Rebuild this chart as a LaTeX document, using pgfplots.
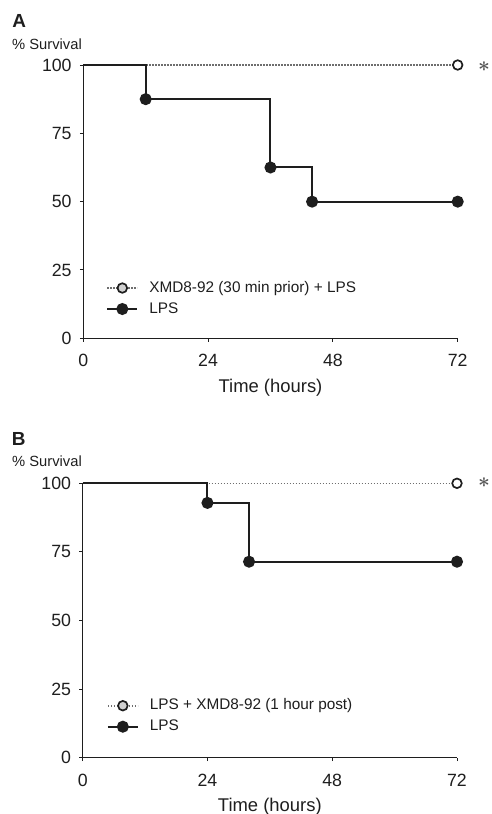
\documentclass[border=0pt]{standalone}
\usepackage{fontspec}
\setmainfont{Liberation Sans}
\usepackage{pgfplots}
\pgfplotsset{compat=1.18}

\definecolor{ink}{HTML}{1E1E1E}
\definecolor{dotgray}{HTML}{6E6E6E}
\definecolor{stargray}{HTML}{555555}
\definecolor{legfill}{HTML}{D0D0D0}

\tikzset{dotline/.style={dotgray, line width=1.6bp, dash pattern=on 1.4bp off 1.6bp}}

\pgfplotsset{
  km/.style={
    scale only axis,
    xmin=0, xmax=72, ymin=0, ymax=100,
    axis lines=left,
    axis line style={-, line width=1.1bp, ink},
    xtick={0,24,48,72}, ytick={0,25,50,75,100},
    tick align=outside, major tick length=3.5bp,
    tick style={line width=1bp, ink},
    tick label style={font=\fontsize{17.8}{20}\selectfont, text=ink},
    /pgf/number format/assume math mode=true,
    yticklabel style={inner sep=0pt, anchor=east, xshift=-8bp},
    xticklabel style={inner sep=0pt, anchor=base, yshift=-25bp},
    xlabel={Time (hours)},
    xlabel style={at={(axis description cs:0.5,0)}, anchor=base, inner sep=0pt,
      yshift=-54bp, font=\fontsize{18.5}{22}\selectfont, text=ink},
    clip=false,
    legend cell align=left,
    legend style={draw=none, fill=none, inner sep=0pt, anchor=south west,
      font=\fontsize{15.4}{18}\selectfont, text=ink, column sep=11bp,
      nodes={text height=11.5bp, text depth=3.5bp, inner ysep=3bp, inner xsep=0pt}},
  },
  treated/.style={dotline, mark=*, mark indices={2}, mark size=4.8bp,
    mark options={solid, fill=white, draw=ink, line width=1.7bp},
    legend image code/.code={
      \draw[dotline] (0bp,0bp) -- (30bp,0bp);
      \draw[ink, solid, line width=1.7bp, fill=legfill] (15bp,0bp) circle (4.8bp);}},
  control/.style={ink, line width=2bp, const plot, mark=*, mark size=5bp,
    mark options={solid, fill=ink},
    legend image code/.code={
      \draw[ink, solid, line width=2bp] (0bp,0bp) -- (30bp,0bp);
      \fill[ink] (15bp,0bp) circle (5bp);}},
}

\begin{document}
\begin{tikzpicture}

% panel A
\begin{axis}[km, at={(83.3bp,-338.3bp)}, anchor=south west,
  width=374.4bp, height=273.3bp,
  legend style={at={(0.061,0.068)}}]
\addplot[treated] coordinates {(0,100) (72,100)};
\addlegendentry{XMD8-92 (30 min prior) + LPS}
\addplot[control, mark indices={2,3,4,5}] coordinates {
  (0,100) (12,87.5) (36,62.5) (44,50) (72,50)};
\addlegendentry{LPS}
\end{axis}

% panel B
\begin{axis}[km, at={(82.7bp,-757.7bp)}, anchor=south west,
  width=374.3bp, height=274.4bp,
  legend style={at={(0.064,0.074)}}]
\addplot[treated] coordinates {(0,100) (72,100)};
\addlegendentry{LPS + XMD8-92 (1 hour post)}
\addplot[control, mark indices={2,3,4}] coordinates {
  (0,100) (24,92.86) (32,71.43) (72,71.43)};
\addlegendentry{LPS}
\end{axis}

\node[anchor=base west, inner sep=0pt, text=ink, font=\bfseries\fontsize{19}{22}\selectfont] at (12.2bp,-27.7bp) {A};
\node[anchor=base west, inner sep=0pt, text=ink, font=\fontsize{14.8}{17}\selectfont] at (12bp,-49bp) {\% Survival};
\node[inner sep=0pt, text=stargray, font=\boldmath\fontsize{22}{22}\selectfont] at (484bp,-66.5bp) {$\ast$};

\node[anchor=base west, inner sep=0pt, text=ink, font=\bfseries\fontsize{19}{22}\selectfont] at (11.7bp,-445bp) {B};
\node[anchor=base west, inner sep=0pt, text=ink, font=\fontsize{14.8}{17}\selectfont] at (12bp,-466.7bp) {\% Survival};
\node[inner sep=0pt, text=stargray, font=\boldmath\fontsize{22}{22}\selectfont] at (484bp,-483bp) {$\ast$};

\pgfresetboundingbox
\useasboundingbox (0bp,0bp) rectangle (492bp,-814bp);
\end{tikzpicture}
\end{document}
